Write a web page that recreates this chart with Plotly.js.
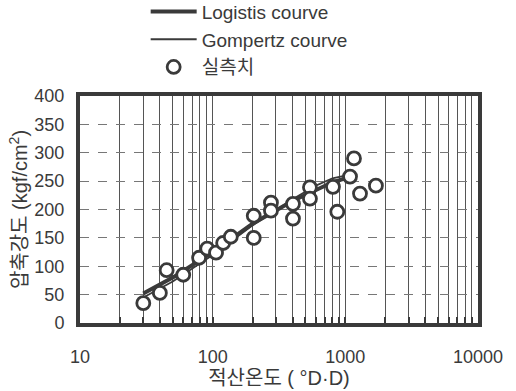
<!DOCTYPE html>
<html>
<head>
<meta charset="utf-8">
<script src="https://cdn.plot.ly/plotly-3.0.1.min.js"></script>
<style>html,body{margin:0;padding:0;background:#fff;}#chart{width:516px;height:391px;}</style>
</head>
<body>
<div id="chart"></div>
<script>
// Measured data (실측치)
const obsX = [30, 40, 45, 60, 79, 91, 106, 120, 137, 204, 204, 275, 275, 403, 403, 541, 541, 807, 870, 1085, 1162, 1290, 1700];
const obsY = [35, 53, 93, 85, 115, 131, 124, 141, 152, 189, 150, 212, 198, 210, 184, 239, 219, 240, 196, 258, 290, 228, 242];

// Fitted curves
const curveX = [30, 50, 100, 200, 400, 600, 800, 1100];
const logisticY = [52, 80, 125, 175, 215, 235, 248, 258];
const gompertzY = [45, 73, 120, 172, 218, 242, 255, 262];

const names = ["Logistis courve", "Gompertz courve", "실측치"];
const xTickVals = [10, 100, 1000, 10000];
const xTickText = ["10", "100", "1000", "10000"];
const yTickVals = [0, 50, 100, 150, 200, 250, 300, 350, 400];

const FONT = "Liberation Sans, Arial, 'Noto Sans CJK KR', sans-serif";
const INK = "#3a3a3a";

const traces = [
  {x: curveX, y: logisticY, name: names[0], mode: "lines", type: "scatter",
   line: {color: INK, width: 4}},
  {x: curveX, y: gompertzY, name: names[1], mode: "lines", type: "scatter",
   line: {color: INK, width: 1.8}},
  {x: obsX, y: obsY, name: names[2], mode: "markers", type: "scatter",
   marker: {symbol: "circle", size: 13, color: "#fff", line: {color: INK, width: 2.8}}}
];

const layout = {
  width: 516, height: 391,
  margin: {l: 80, r: 38, t: 96, b: 68, autoexpand: false},
  paper_bgcolor: "#fff", plot_bgcolor: "#fff",
  font: {family: FONT, color: INK, size: 18},
  showlegend: true,
  legend: {x: 0.165, y: 1.455, xanchor: "left", yanchor: "top",
           font: {family: FONT, size: 19, color: INK},
           bgcolor: "rgba(0,0,0,0)", itemwidth: 46, tracegroupgap: 0},
  xaxis: {type: "log", range: [1, 4],
          tickvals: xTickVals, ticktext: xTickText,
          ticks: "inside", ticklen: 6, tickwidth: 2, tickcolor: INK,
          showgrid: true, gridcolor: "#555", gridwidth: 1,
          minor: {dtick: "D1", showgrid: true, gridcolor: "#555", gridwidth: 1, ticks: "inside", ticklen: 6, tickwidth: 2, tickcolor: INK},
          showline: true, linecolor: INK, linewidth: 4, mirror: true,
          zeroline: false, ticklabelstandoff: 14,
          tickfont: {size: 18, color: INK},
          title: {text: "적산온도 ( °D·D)", font: {size: 20, color: INK}, standoff: 5}},
  yaxis: {range: [0, 400], tickvals: yTickVals,
          ticks: "", showgrid: true, gridcolor: "#777", gridwidth: 1, griddash: "dash",
          showline: true, linecolor: INK, linewidth: 4, mirror: true,
          zeroline: false, ticklabelstandoff: 8,
          tickfont: {size: 18, color: INK},
          title: {text: "압축강도 (kgf/cm<sup>2</sup>)", font: {size: 20, color: INK}, standoff: 2}}
};

Plotly.newPlot("chart", traces, layout, {displayModeBar: false, staticPlot: true});
</script>
</body>
</html>
